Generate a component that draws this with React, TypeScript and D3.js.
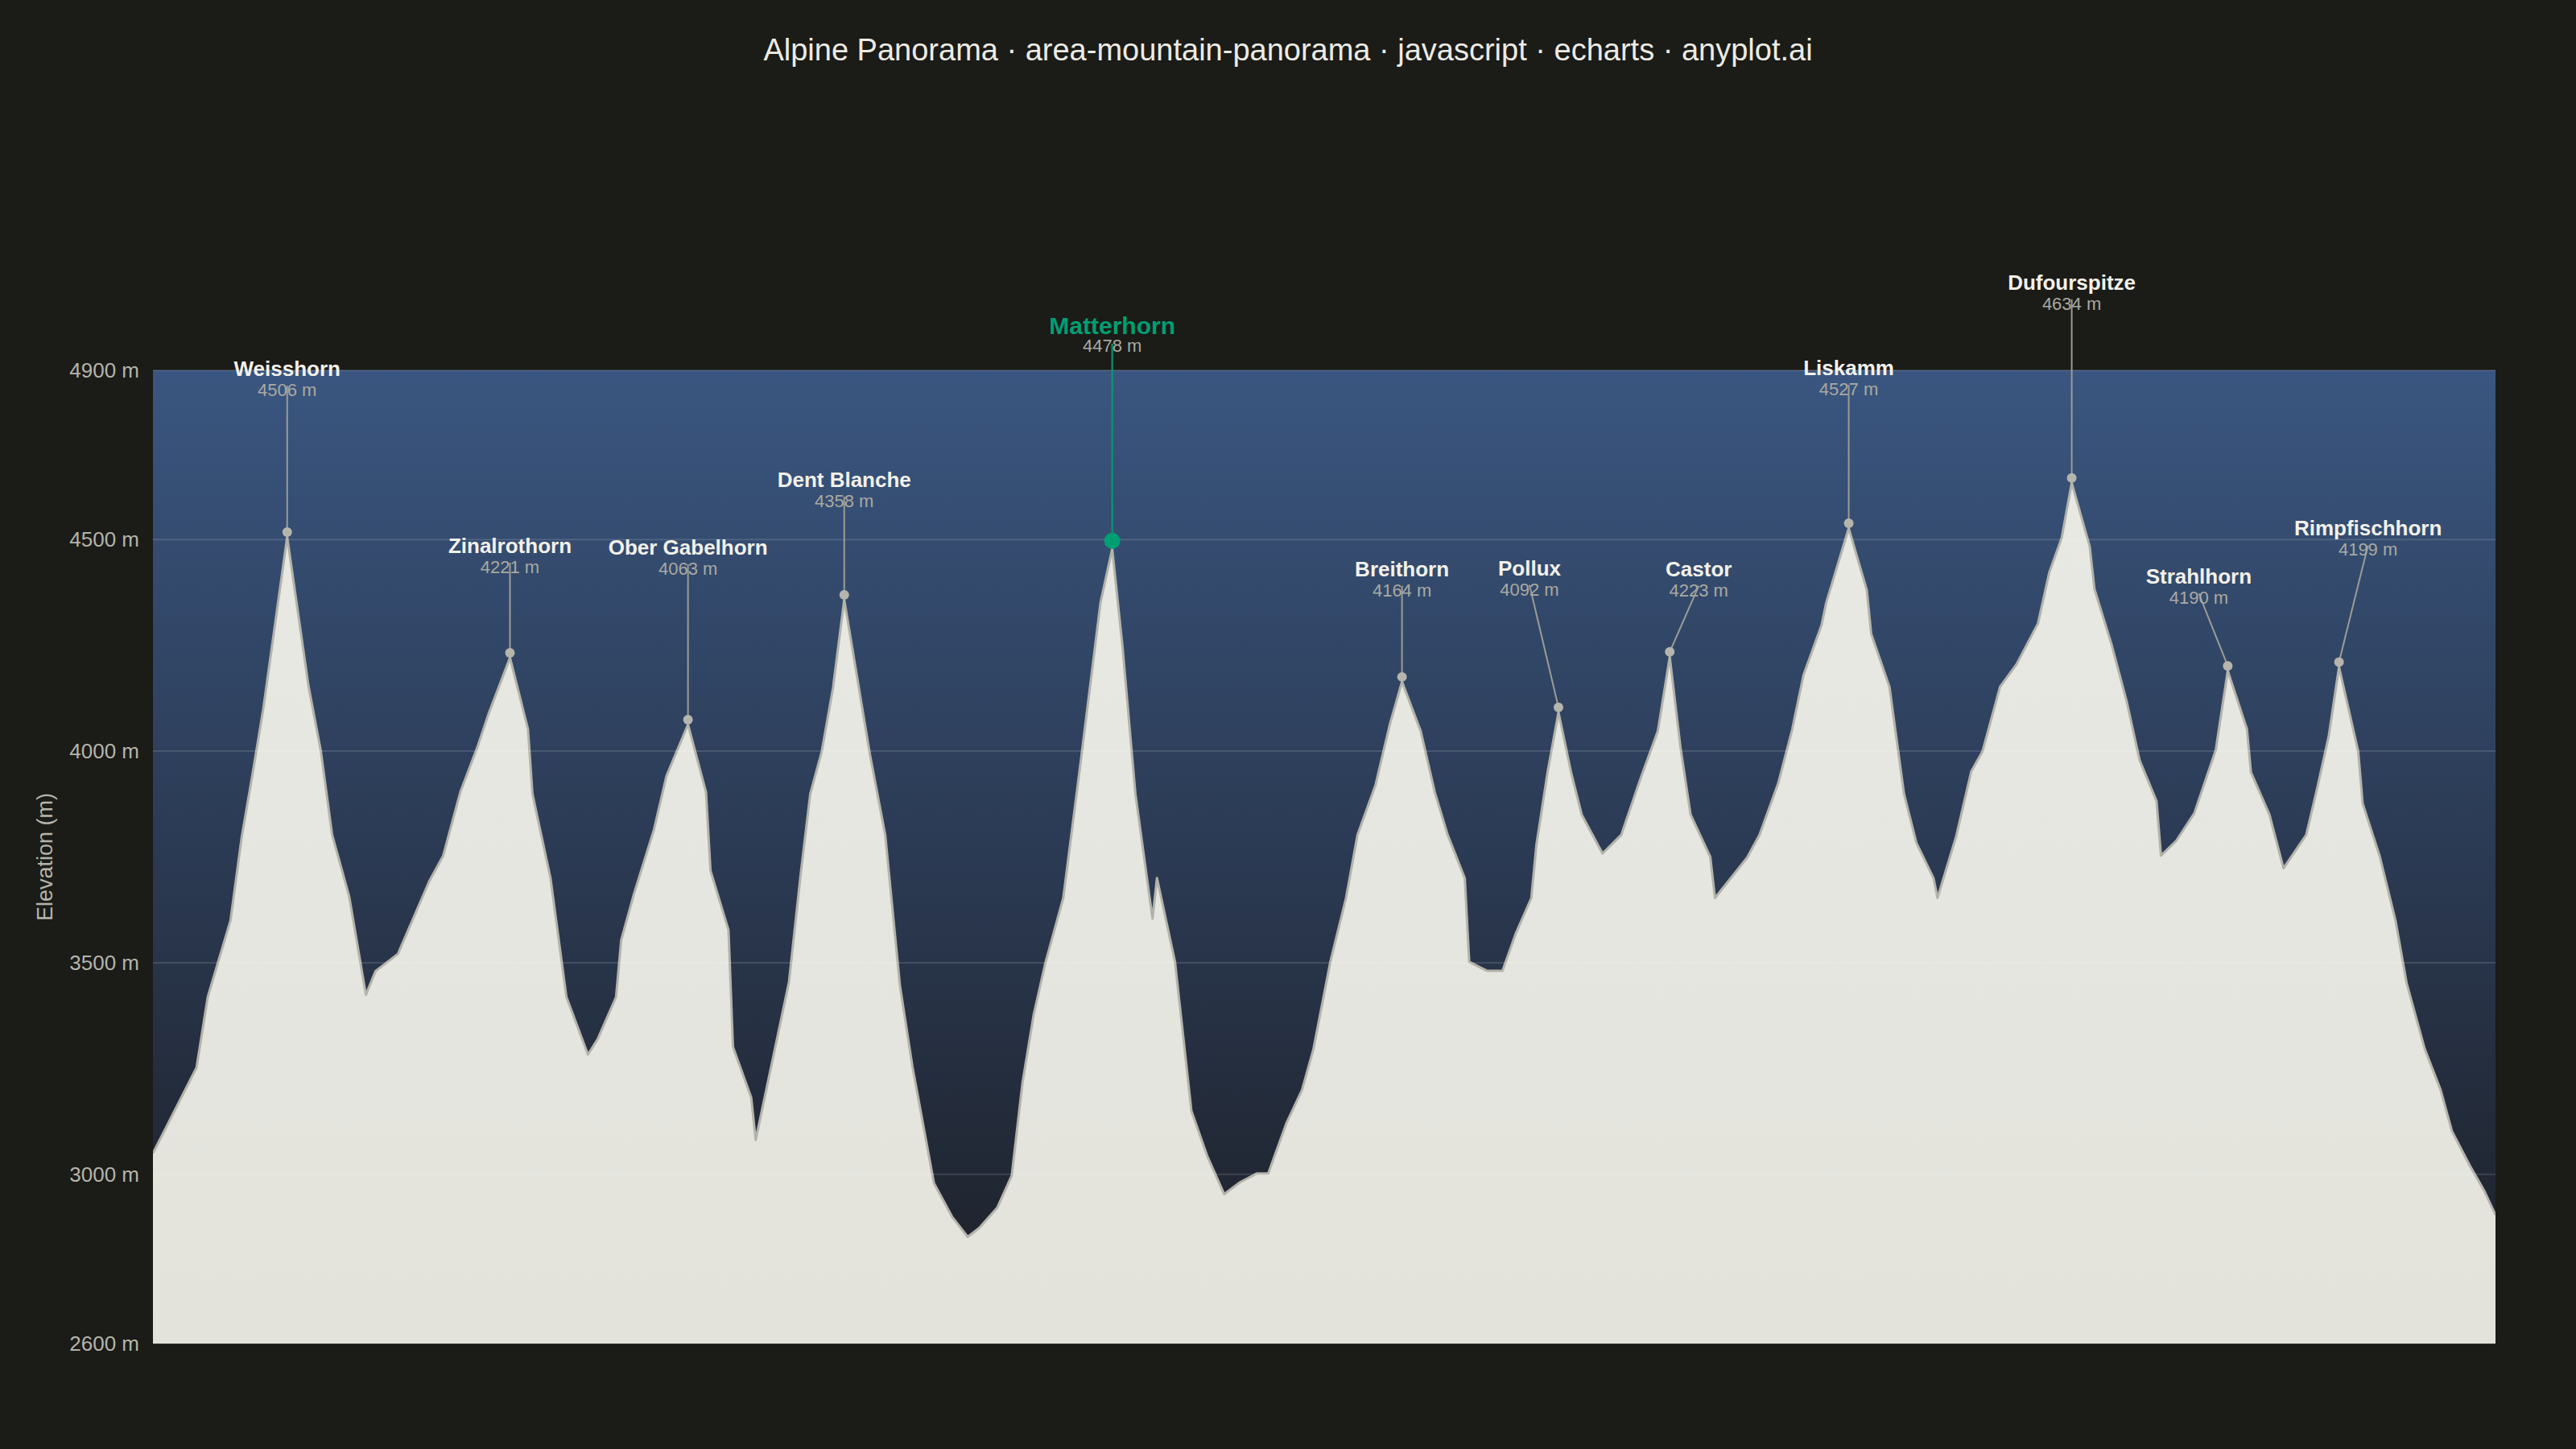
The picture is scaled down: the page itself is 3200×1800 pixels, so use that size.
import React from "react";
import * as d3 from "d3";

// Ridge profile: position along the panorama (0–100 % of the ridge) and elevation (m)
const ridgePos = [
  0, 1.86, 2.34, 3.31, 3.79, 4.27, 4.71, 5.73, 6.64, 7.17, 7.65, 8.38, 9.09, 9.5, 10.46,
  11.79, 12.39, 13.12, 13.84, 14.32, 15.24, 16.01, 16.2, 16.97, 17.65, 18.57, 18.98, 19.77,
  19.99, 20.52, 21.39, 21.92, 22.84, 23.61, 23.8, 24.57, 24.76, 25.54, 25.73, 27.15, 27.65,
  28.06, 28.55, 29.03, 29.51, 30.61, 31.26, 31.89, 32.42, 33.34, 34.11, 34.78, 35.27, 36.04,
  36.66, 37.12, 37.6, 38.09, 38.86, 39.6, 40.45, 40.95, 41.39, 41.94, 42.67, 42.86, 43.63,
  44.33, 45.0, 45.73, 46.4, 47.13, 47.61, 48.38, 49.05, 49.54, 50.26, 50.93, 51.42, 52.19,
  52.79, 53.32, 54.12, 54.72, 55.27, 56.0, 56.19, 56.94, 57.61, 58.17, 58.84, 59.06, 59.54,
  60.0, 60.55, 60.99, 61.88, 62.68, 63.52, 64.24, 64.75, 65.21, 65.64, 66.48, 66.68, 68.05,
  68.58, 69.38, 69.98, 70.46, 71.23, 71.43, 72.39, 73.16, 73.35, 74.13, 74.75, 75.28, 76.01,
  76.18, 76.97, 77.62, 78.1, 78.85, 79.55, 80.47, 80.95, 81.48, 81.91, 82.68, 82.88, 83.6,
  84.25, 84.81, 85.53, 85.72, 86.37, 87.14, 88.06, 88.57, 89.39, 89.56, 90.35, 90.95, 91.92,
  92.35, 92.88, 93.32, 94.14, 94.33, 95.05, 95.73, 96.21, 96.98, 97.66, 98.14, 98.91, 99.51, 100,
];
const elevation = [
  3050, 3252, 3419, 3600, 3797, 3952, 4100, 4506, 4154, 3999, 3802, 3656, 3424, 3480, 3521,
  3692, 3753, 3903, 4008, 4087, 4221, 4052, 3899, 3700, 3419, 3283, 3319, 3419,
  3554, 3660, 3815, 3941, 4063, 3903, 3718, 3577, 3301, 3181, 3081, 3454, 3709,
  3899, 3999, 4149, 4358, 3991, 3802, 3445, 3255, 2979, 2900, 2852, 2873, 2921,
  2997, 3217, 3378, 3498, 3653, 3973, 4351, 4478, 4246, 3899, 3604, 3700, 3502,
  3150, 3044, 2953, 2981, 3002, 3002, 3120, 3199, 3296, 3502, 3653, 3802, 3920,
  4061, 4164, 4047, 3903, 3802, 3700, 3502, 3481, 3481, 3568, 3653, 3779, 3952,
  4092, 3947, 3850, 3758, 3802, 3938, 4047, 4223, 4008, 3850, 3750, 3653, 3748,
  3802, 3924, 4052, 4180, 4298, 4351, 4527, 4381, 4277, 4152, 3899, 3783, 3700,
  3653, 3797, 3952, 3999, 4152, 4205, 4302, 4422, 4504, 4634, 4483, 4383, 4254,
  4119, 3978, 3882, 3753, 3788, 3853, 4003, 4190, 4052, 3950, 3850, 3723, 3802,
  3903, 4035, 4199, 3999, 3876, 3753, 3600, 3451, 3296, 3199, 3102, 3020, 2962, 2904,
];

// Named summits
const peakNames = [
  "Weisshorn", "Zinalrothorn", "Ober Gabelhorn", "Dent Blanche", "Matterhorn", "Breithorn",
  "Pollux", "Castor", "Liskamm", "Dufourspitze", "Strahlhorn", "Rimpfischhorn",
];
const peakPos = [5.73, 15.24, 22.84, 29.51, 40.95, 53.32, 60.0, 64.75, 72.39, 81.91, 88.57, 93.32];
const peakElev = [4506, 4221, 4063, 4358, 4478, 4164, 4092, 4223, 4527, 4634, 4190, 4199];

const yTicks = [2600, 3000, 3500, 4000, 4500, 4900];
const highlightPeak = "Matterhorn";

const TITLE = "Alpine Panorama · area-mountain-panorama · javascript · echarts · anyplot.ai";

// Label placement (pixel offsets of the name baseline from the summit), layout only
const labelOffset: Record<string, [number, number]> = {
  Weisshorn: [0, -200],
  Zinalrothorn: [0, -130],
  "Ober Gabelhorn": [0, -211],
  "Dent Blanche": [0, -140],
  Matterhorn: [0, -267],
  Breithorn: [0, -131],
  Pollux: [-36, -170],
  Castor: [36, -100],
  Liskamm: [0, -190],
  Dufourspitze: [0, -240],
  Strahlhorn: [-36, -108],
  Rimpfischhorn: [36, -163],
};

const W = 3200;
const H = 1800;
const M = { left: 190, right: 3100, top: 460, bottom: 1669 };
const FONT = "'Liberation Sans', Arial, Helvetica, sans-serif";
const GREEN = "#009E73";

export default function App() {
  const x = d3.scaleLinear().domain([0, 100]).range([M.left, M.right]);
  const y = d3.scaleLinear().domain([2600, 4900]).range([M.bottom, M.top]);

  const pts = ridgePos.map((p, i) => ({ p, e: elevation[i] }));
  const area = d3
    .area<{ p: number; e: number }>()
    .x((d) => x(d.p))
    .y0(y(2600))
    .y1((d) => y(d.e))
    .curve(d3.curveLinear);
  const line = d3
    .line<{ p: number; e: number }>()
    .x((d) => x(d.p))
    .y((d) => y(d.e))
    .curve(d3.curveLinear);

  return (
    <div style={{ position: "fixed", left: 0, top: 0, width: W, height: H, background: "#1b1b17" }}>
      <svg width={W} height={H} style={{ display: "block" }} fontFamily={FONT}>
        <defs>
          <linearGradient id="sky" x1="0" y1="0" x2="0" y2="1">
            <stop offset="0%" stopColor="#3a5680" />
            <stop offset="50%" stopColor="#2b3a53" />
            <stop offset="100%" stopColor="#1c1e24" />
          </linearGradient>
          <linearGradient id="snow" x1="0" y1="0" x2="0" y2="1">
            <stop offset="0%" stopColor="#e9e9e4" />
            <stop offset="100%" stopColor="#e3e3dc" />
          </linearGradient>
          <clipPath id="plotClip">
            <rect x={M.left} y={M.top} width={M.right - M.left} height={M.bottom - M.top} />
          </clipPath>
        </defs>
        <rect width={W} height={H} fill="#1b1b17" />

        <text x={1600} y={75} textAnchor="middle" fontSize={38} fill="#ecebe4">
          {TITLE}
        </text>

        {/* sky */}
        <rect
          x={M.left}
          y={M.top}
          width={M.right - M.left}
          height={M.bottom - M.top}
          fill="url(#sky)"
        />

        {/* mountains */}
        <g clipPath="url(#plotClip)">
          <path d={area(pts) ?? ""} fill="url(#snow)" />
          <path d={line(pts) ?? ""} fill="none" stroke="#b3b3ab" strokeWidth={3} strokeLinejoin="round" />
        </g>

        {/* grid */}
        {yTicks.map((t) => (
          <line
            key={`g${t}`}
            x1={M.left}
            x2={M.right}
            y1={y(t)}
            y2={y(t)}
            stroke="#ffffff"
            strokeOpacity={t === 2600 ? 0.1 : 0.13}
            strokeWidth={2}
          />
        ))}

        {/* y ticks */}
        {yTicks.map((t) => (
          <text
            key={`t${t}`}
            x={173}
            y={y(t)}
            dy="0.35em"
            textAnchor="end"
            fontSize={26}
            fill="#b4b4ac"
          >
            {`${t} m`}
          </text>
        ))}
        <text
          transform={`translate(56,${(M.top + M.bottom) / 2}) rotate(-90)`}
          textAnchor="middle"
          dy="0.35em"
          fontSize={27}
          fill="#b4b4ac"
        >
          Elevation (m)
        </text>

        {/* summit markers & labels */}
        {peakNames.map((name, i) => {
          const hi = name === highlightPeak;
          const r = hi ? 10 : 6;
          const px = x(peakPos[i]);
          const py = y(peakElev[i]);
          const [dx, dy] = labelOffset[name] ?? [0, -150];
          const lx = px + dx;
          const ly = py + dy;
          return (
            <g key={name}>
              <line
                x1={px}
                y1={py - r}
                x2={lx}
                y2={ly + 12}
                stroke={hi ? GREEN : "#9c9c97"}
                strokeOpacity={hi ? 0.85 : 1}
                strokeWidth={hi ? 2.5 : 2}
              />
              <circle cx={px} cy={py - r} r={r} fill={hi ? GREEN : "#b5b5ad"} />
              <text
                x={lx}
                y={ly}
                textAnchor="middle"
                fontSize={hi ? 30 : 26}
                fontWeight="bold"
                fill={hi ? GREEN : "#f2f1ea"}
              >
                {name}
              </text>
              <text
                x={lx}
                y={ly + (hi ? 22 : 25)}
                textAnchor="middle"
                fontSize={22}
                fill="#a9a9a2"
              >
                {`${peakElev[i]} m`}
              </text>
            </g>
          );
        })}
      </svg>
    </div>
  );
}
